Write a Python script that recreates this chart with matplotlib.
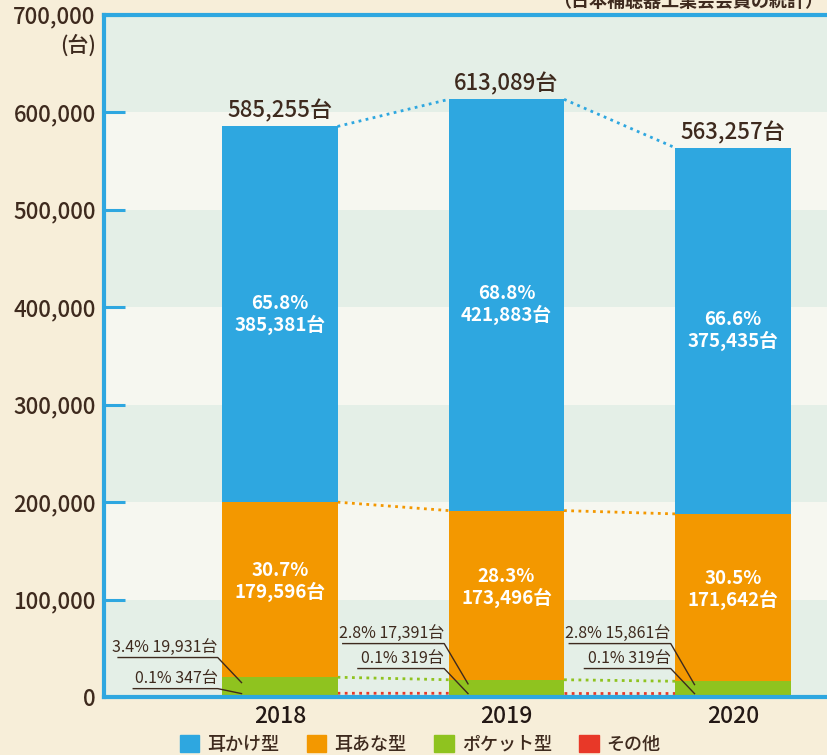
import numpy as np
import matplotlib.pyplot as plt
from matplotlib.patches import Patch

plt.rcParams['font.family'] = ['Noto Sans CJK JP', 'DejaVu Sans']

years = ['2018', '2019', '2020']
types = ['耳かけ型', '耳あな型', 'ポケット型', 'その他']
other = [347, 319, 319]
pocket = [19931, 17391, 15861]
in_ear = [179596, 173496, 171642]
ear_hook = [385381, 421883, 375435]
totals = [585255, 613089, 563257]
pct_hook = ['65.8%', '68.8%', '66.6%']
pct_in_ear = ['30.7%', '28.3%', '30.5%']
pct_pocket = ['3.4%', '2.8%', '2.8%']
pct_other = ['0.1%', '0.1%', '0.1%']

colors = ['#2ea7e0', '#f39800', '#8fc31f', '#e83828']
brown = '#3e2a1e'
bg = '#f7eed9'

fig = plt.figure(figsize=(8.27, 7.55), dpi=100, facecolor=bg)
ax = fig.add_axes([0.1258, 0.0768, 0.8742, 0.9039])
ax.set_facecolor('#f6f7f0')

# alternating bands
for i in range(7):
    if i % 2 == 0:
        ax.axhspan(i * 100000, (i + 1) * 100000, color='#e4efe7', zorder=0, lw=0)

x = np.arange(len(years))
w = 0.508
other_a = np.array(other)
pocket_a = np.array(pocket)
in_ear_a = np.array(in_ear)
hook_a = np.array(ear_hook)

b0 = np.zeros(3)
b1 = b0 + other_a
b2 = b1 + pocket_a
b3 = b2 + in_ear_a
b4 = b3 + hook_a
series = [(pocket_a, b1, colors[2]), (in_ear_a, b2, colors[1]), (hook_a, b3, colors[0])]
for vals, bottom, c in series:
    ax.bar(x, vals, w, bottom=bottom, color=c, zorder=3, lw=0)
# "other" is too thin to see at true scale: draw it with an outline like the original
ax.bar(x, other_a, w, bottom=b0, color=colors[3], edgecolor=colors[3], lw=2.5, zorder=3.5)

# dotted connectors between bars
for tops, c, off in [(b4, colors[0], 0), (b3, colors[1], 0), (b2, colors[2], 0), (b1, colors[3], 3500)]:
    for i in range(len(x) - 1):
        ax.plot([x[i] + w / 2, x[i + 1] - w / 2], [tops[i] + off, tops[i + 1] + off],
                color=c, ls=(0, (1, 1.6)), lw=2, zorder=2)

# labels inside bars
for i in range(3):
    ax.text(x[i], (b3[i] + b4[i]) / 2, f'{pct_hook[i]}\n{ear_hook[i]:,}台',
            ha='center', va='center', color='white', fontsize=13.5,
            fontweight='bold', linespacing=1.1, zorder=4)
    ax.text(x[i], (b2[i] + b3[i]) / 2 + 8000, f'{pct_in_ear[i]}\n{in_ear[i]:,}台',
            ha='center', va='center', color='white', fontsize=13.5,
            fontweight='bold', linespacing=1.1, zorder=4)
    ax.text(x[i], b4[i] + 4000, f'{totals[i]:,}台', ha='center', va='bottom',
            color=brown, fontsize=16, fontweight='medium', zorder=4)

# small-segment callouts
label_y = [(40500, 8600), (54800, 29200), (54800, 29200)]
line_left = [(-0.715, -0.648), (-0.723, -0.656), (-0.723, -0.656)]
for i in range(3):
    right = x[i] - 0.275
    ty_p, ty_o = label_y[i]
    ax.text(right, ty_p + 1800, f'{pct_pocket[i]} {pocket[i]:,}台', ha='right',
            va='bottom', color=brown, fontsize=11.5, zorder=5)
    ax.plot([x[i] + line_left[i][0], right, x[i] - 0.17],
            [ty_p, ty_p, (b1[i] + b2[i]) / 2 + 4500], color=brown, lw=1, zorder=5)
    ax.text(right, ty_o + 1800, f'{pct_other[i]} {other[i]:,}台', ha='right',
            va='bottom', color=brown, fontsize=11.5, zorder=5)
    ax.plot([x[i] + line_left[i][1], right, x[i] - 0.17],
            [ty_o, ty_o, 3500], color=brown, lw=1, zorder=5)

ax.set_xlim(-0.777, 2.415)
ax.set_ylim(0, 700000)
yt = np.arange(0, 700001, 100000)
ax.set_yticks(yt)
ax.set_yticklabels([f'{v:,}' for v in yt], fontsize=16, color=brown, fontweight='medium')
ax.set_xticks(x)
ax.set_xticklabels(years, fontsize=16.5, color='#231815', fontweight='medium')
ax.tick_params(axis='y', direction='in', length=15, width=2.2, color=colors[0], pad=6)
ax.tick_params(axis='x', length=0, pad=6)
for s in ['left', 'top', 'bottom']:
    ax.spines[s].set_color(colors[0])
    ax.spines[s].set_linewidth(3)
    ax.spines[s].set_zorder(6)
ax.spines['right'].set_visible(False)

fig.text(0.116, 0.94, '(台)', ha='right', va='center', fontsize=15, color=brown,
         fontweight='medium')
fig.text(0.995, 0.998, '（日本補聴器工業会会員の統計）', ha='right', va='center',
         fontsize=13, color=brown, fontweight='bold')

handles = [Patch(color=c, label=t) for c, t in zip(colors, types)]
fig.legend(handles=handles, loc='lower center', bbox_to_anchor=(0.508, -0.02),
           ncol=4, frameon=False, prop={'size': 13, 'weight': 'medium'},
           handlelength=1.1, handleheight=1.1,
           handletextpad=0.45, columnspacing=1.5, labelcolor=brown)

fig.savefig('out.png', dpi=100, facecolor=bg)
